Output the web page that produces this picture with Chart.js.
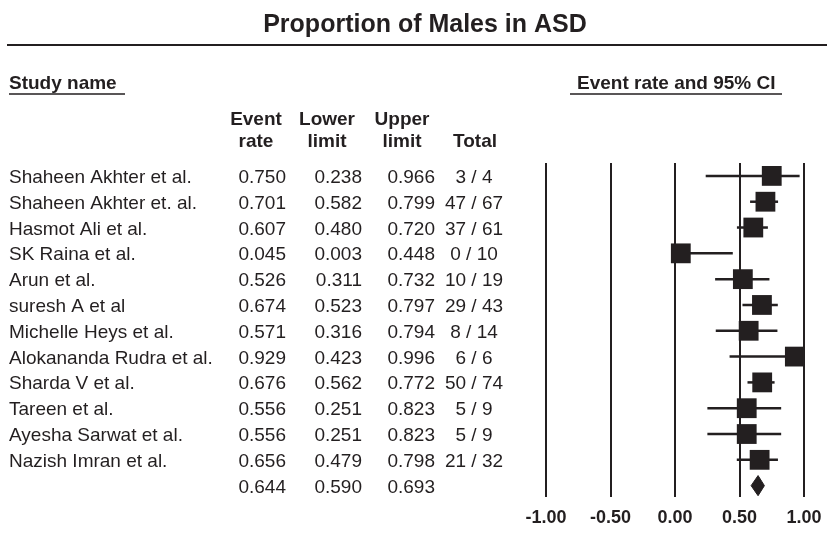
<!DOCTYPE html>
<html lang="en">
<head>
<meta charset="UTF-8">
<title>Proportion of Males in ASD</title>
<style>
    html, body { margin: 0; padding: 0; background: #fff; }
    #wrap { position: relative; width: 827px; height: 542px; }
</style>
<script src="https://cdn.jsdelivr.net/npm/chart.js"></script>
</head>
<body>
<div id="wrap"><canvas id="forestChart" width="827" height="542"></canvas></div>
<script>
// Study rows (top to bottom)
const studyNames = [
    'Shaheen Akhter et al.', 'Shaheen Akhter et. al.', 'Hasmot Ali et al.', 'SK Raina et al.',
    'Arun et al.', 'suresh A et al', 'Michelle Heys et al.', 'Alokananda Rudra et al.',
    'Sharda V et al.', 'Tareen et al.', 'Ayesha Sarwat et al.', 'Nazish Imran et al.'
];
const eventRate  = [0.750, 0.701, 0.607, 0.045, 0.526, 0.674, 0.571, 0.929, 0.676, 0.556, 0.556, 0.656];
const lowerLimit = [0.238, 0.582, 0.480, 0.003, 0.311, 0.523, 0.316, 0.423, 0.562, 0.251, 0.251, 0.479];
const upperLimit = [0.966, 0.799, 0.720, 0.448, 0.732, 0.797, 0.794, 0.996, 0.772, 0.823, 0.823, 0.798];
const totals     = ['3 / 4', '47 / 67', '37 / 61', '0 / 10', '10 / 19', '29 / 43', '8 / 14', '6 / 6',
                    '50 / 74', '5 / 9', '5 / 9', '21 / 32'];

// Pooled estimate
const summaryRate  = 0.644;
const summaryLower = 0.590;
const summaryUpper = 0.693;

// Axis ticks
const xTicks = [-1, -0.5, 0, 0.5, 1];

const ink = '#231f20';
const fontFamily = '"Liberation Sans", Arial, sans-serif';
const summaryRow = studyNames.length;
const diamondHalf = 0.39;   // half height of the diamond, in row units

// left-hand table + titles, positioned off the y scale so rows line up with the marks
const tablePlugin = {
    id: 'forestTable',
    afterDraw(chart) {
        const ctx = chart.ctx;
        const yScale = chart.scales.y;
        ctx.save();
        ctx.fillStyle = ink;
        ctx.strokeStyle = ink;
        ctx.textBaseline = 'alphabetic';

        // title + rule
        ctx.font = 'bold 25px ' + fontFamily;
        ctx.textAlign = 'center';
        ctx.fillText('Proportion of Males in ASD', 425, 32);
        ctx.lineWidth = 2;
        ctx.beginPath();
        ctx.moveTo(7, 45);
        ctx.lineTo(827, 45);
        ctx.stroke();

        // section headers (underlined)
        ctx.font = 'bold 19px ' + fontFamily;
        ctx.textAlign = 'left';
        ctx.fillText('Study name', 9, 89);
        ctx.fillText('Event rate and 95% CI', 577, 89);
        ctx.lineWidth = 1.5;
        ctx.beginPath();
        ctx.moveTo(9, 94); ctx.lineTo(125, 94);
        ctx.moveTo(570, 94); ctx.lineTo(782, 94);
        ctx.stroke();

        // column headers
        ctx.textAlign = 'center';
        ctx.fillText('Event', 256, 125);
        ctx.fillText('rate', 256, 147);
        ctx.fillText('Lower', 327, 125);
        ctx.fillText('limit', 327, 147);
        ctx.fillText('Upper', 402, 125);
        ctx.fillText('limit', 402, 147);
        ctx.fillText('Total', 475, 147);

        // rows
        ctx.font = '19px ' + fontFamily;
        studyNames.forEach((name, i) => {
            const y = yScale.getPixelForValue(i) + 7;
            ctx.textAlign = 'left';
            ctx.fillText(name, 9, y);
            ctx.textAlign = 'right';
            ctx.fillText(eventRate[i].toFixed(3), 286, y);
            ctx.fillText(lowerLimit[i].toFixed(3), 362, y);
            ctx.fillText(upperLimit[i].toFixed(3), 435, y);
            ctx.textAlign = 'center';
            ctx.fillText(totals[i], 474, y);
        });
        const ys = yScale.getPixelForValue(summaryRow) + 7;
        ctx.textAlign = 'right';
        ctx.fillText(summaryRate.toFixed(3), 286, ys);
        ctx.fillText(summaryLower.toFixed(3), 362, ys);
        ctx.fillText(summaryUpper.toFixed(3), 435, ys);
        ctx.restore();
    }
};

// one thin line per confidence interval
const ciDatasets = studyNames.map((name, i) => ({
    type: 'line',
    label: name + ' CI',
    data: [{ x: lowerLimit[i], y: i }, { x: upperLimit[i], y: i }],
    borderColor: ink,
    borderWidth: 2.5,
    pointRadius: 0,
    showLine: true,
    clip: false,
    order: 2
}));

new Chart(document.getElementById('forestChart'), {
    type: 'scatter',
    data: {
        datasets: [
            {
                label: 'Event rate',
                data: eventRate.map((v, i) => ({ x: v, y: i })),
                pointStyle: 'rect',
                pointRadius: 14,
                backgroundColor: ink,
                borderWidth: 0,
                clip: false,
                order: 0
            },
            {
                type: 'line',
                label: 'Pooled',
                data: [
                    { x: summaryLower, y: summaryRow },
                    { x: summaryRate, y: summaryRow - diamondHalf },
                    { x: summaryUpper, y: summaryRow },
                    { x: summaryRate, y: summaryRow + diamondHalf },
                    { x: summaryLower, y: summaryRow }
                ],
                showLine: true,
                fill: 'shape',
                tension: 0,
                borderColor: ink,
                backgroundColor: ink,
                borderWidth: 1,
                pointRadius: 0,
                clip: false,
                order: 0
            },
            ...ciDatasets
        ]
    },
    options: {
        responsive: false,
        animation: false,
        layout: { padding: { left: 546, right: 23, top: 163, bottom: 0 } },
        plugins: { legend: { display: false }, tooltip: { enabled: false } },
        scales: {
            x: {
                type: 'linear',
                min: -1,
                max: 1,
                afterFit: scale => {
                    scale.height = 45;
                    scale.paddingLeft = 0;
                    scale.paddingRight = 0;
                },
                afterBuildTicks: scale => { scale.ticks = xTicks.map(v => ({ value: v })); },
                border: { display: false },
                grid: { color: ink, lineWidth: 2, drawTicks: false },
                ticks: {
                    color: ink,
                    padding: 10,
                    font: { family: fontFamily, size: 18, weight: 'bold' },
                    callback: v => Number(v).toFixed(2)
                }
            },
            y: {
                type: 'linear',
                min: -0.5,
                max: 12.44,
                reverse: true,
                display: false
            }
        }
    },
    plugins: [tablePlugin]
});
</script>
</body>
</html>
